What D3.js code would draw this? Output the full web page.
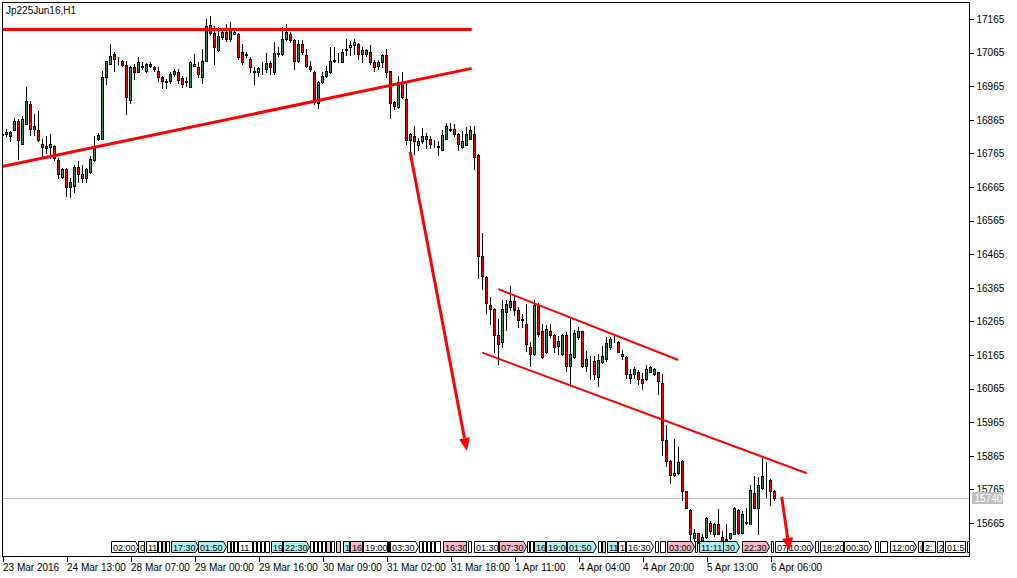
<!DOCTYPE html>
<html><head><meta charset="utf-8">
<script src="https://cdn.jsdelivr.net/npm/d3@7"></script>
<style>
body{margin:0;background:#fff;}
svg{display:block;font-family:"Liberation Sans",Arial,sans-serif;}
</style>
</head><body>
<svg id="c" width="1017" height="578"></svg>
<script>
// ---------- DATA (hourly bars, Jp225Jun16) ----------
const opens = [
16821,16823,16816,16836,16861,16794,16853,16911,16838,16836,
16794,16781,16784,16788,16746,16694,16719,16664,16668,16724,
16704,16691,16709,16746,16809,16809,16993,17031,17061,17041,
17039,17029,16924,17023,17008,17021,17009,17032,17021,17011,
16993,16981,16979,17001,17008,16988,16978,16964,17026,17023,
16993,17039,17148,17124,17073,17111,17126,17104,17121,17121,
17066,17058,17046,17011,17006,17015,17016,17033,17006,17061,
17061,17106,17121,17103,17041,17091,17059,17024,17008,16916,
16978,16996,17006,17041,17045,17036,17073,17083,17088,17091,
17061,17061,17066,17038,17026,17036,17059,17009,16918,16904,
16978,16926,16806,16816,16791,16801,16809,16809,16794,16786,
16776,16809,16836,16839,16823,16784,16791,16809,16824,16759,
16461,16396,16315,16303,16225,16203,16293,16308,16325,16300,
16271,16258,16190,16168,16315,16235,16173,16235,16225,16193,
16168,16225,16133,16160,16220,16235,16133,16146,16148,16100,
16143,16153,16190,16212,16205,16168,16160,16098,16108,16115,
16095,16093,16115,16108,16115,16081,15911,15851,15808,15814,
15851,15761,15703,15621,15634,15611,15623,15666,15633,15663,
15623,15614,15619,15631,15703,15636,15666,15663,15753,15709,
15769,15793,15793,15761];
const highs = [
16826,16839,16833,16871,16866,16876,16963,16921,16881,16891,
16809,16816,16823,16791,16751,16721,16721,16691,16731,16741,
16731,16721,16756,16816,16826,17011,17041,17091,17066,17051,
17044,17041,17026,17031,17051,17036,17033,17036,17026,17021,
16996,16986,17006,17016,17016,16996,16991,17041,17061,17036,
17076,17166,17173,17143,17141,17136,17151,17156,17133,17124,
17091,17066,17051,17021,17021,17036,17063,17039,17096,17081,
17141,17149,17126,17106,17103,17103,17076,17041,17011,16981,
17006,17026,17081,17081,17063,17076,17106,17099,17106,17093,
17081,17076,17088,17043,17043,17061,17076,17011,16921,16996,
17008,16981,16826,16846,16811,16841,16826,16816,16806,16803,
16836,16856,16856,16853,16826,16831,16843,16846,16846,16764,
16527,16401,16338,16305,16273,16328,16330,16370,16343,16308,
16288,16318,16203,16330,16320,16258,16253,16258,16228,16223,
16228,16233,16273,16238,16248,16237,16178,16163,16163,16168,
16193,16218,16218,16223,16208,16180,16163,16123,16128,16120,
16110,16135,16133,16125,16115,16108,15956,15853,15916,15891,
15853,15761,15706,15646,15636,15631,15683,15671,15666,15706,
15641,15661,15636,15713,15706,15701,15711,15779,15806,15801,
15861,15846,15795,15763];
const lows = [
16816,16816,16801,16836,16749,16794,16853,16821,16821,16801,
16751,16766,16751,16746,16691,16691,16639,16636,16651,16681,
16681,16681,16706,16741,16806,16809,16971,17031,17011,17031,
17026,16881,16916,16986,17006,17016,17006,17021,17011,16981,
16961,16961,16976,16996,16976,16963,16966,16964,17026,16991,
16976,17039,17116,17031,17071,17106,17101,17101,17119,17046,
17031,17051,17006,16971,16996,17001,17006,17001,17001,17056,
17059,17103,17096,17016,17036,17061,17021,17011,16911,16901,
16976,16993,17003,17036,17036,17036,17059,17059,17061,17046,
17036,17056,17031,17009,17016,17021,16991,16869,16896,16901,
16931,16793,16766,16763,16776,16796,16781,16781,16784,16761,
16776,16809,16831,16816,16776,16781,16789,16809,16718,16394,
16361,16291,16258,16173,16138,16190,16238,16300,16283,16248,
16248,16178,16133,16166,16223,16156,16170,16218,16173,16168,
16166,16118,16073,16156,16213,16128,16118,16093,16093,16073,
16140,16148,16183,16203,16173,16153,16096,16083,16098,16078,
16063,16090,16113,16106,16048,15866,15836,15783,15806,15811,
15733,15709,15611,15611,15606,15606,15621,15631,15626,15631,
15606,15606,15616,15631,15633,15636,15663,15661,15709,15633,
15766,15743,15719,15733];
const closes = [
16822,16829,16829,16861,16806,16866,16921,16839,16846,16806,
16784,16786,16794,16751,16704,16719,16666,16681,16724,16704,
16693,16719,16749,16781,16821,16993,17039,17056,17046,17039,
17029,16934,17021,17006,17038,17026,17031,17026,17016,16991,
16979,16978,17001,17011,16984,16971,16981,17038,17031,17001,
17041,17143,17123,17081,17113,17126,17104,17136,17126,17051,
17036,17061,17023,17008,17018,17016,17033,17021,17063,17063,
17106,17126,17103,17041,17091,17066,17024,17016,16919,16978,
16996,17011,17041,17044,17046,17068,17076,17089,17096,17061,
17073,17073,17036,17023,17038,17059,17006,16916,16906,16978,
16934,16806,16824,16801,16801,16816,16816,16794,16793,16785,
16821,16846,16839,16823,16794,16801,16823,16836,16754,16459,
16401,16321,16303,16225,16198,16303,16318,16325,16300,16270,
16269,16198,16168,16315,16228,16158,16243,16225,16190,16208,
16225,16133,16168,16230,16235,16133,16153,16146,16108,16150,
16163,16200,16213,16214,16175,16161,16108,16108,16123,16093,
16083,16123,16128,16123,16088,15911,15851,15808,15814,15846,
15761,15711,15631,15634,15611,15623,15681,15641,15663,15633,
15611,15616,15634,15711,15636,15693,15668,15763,15711,15778,
15806,15794,15761,15740];

const symbolTitle = "Jp225Jun16,H1";
const lastPrice = 15740;
const priceTicks = d3.range(15665, 17166, 100);
const timeTickBars = d3.range(0, 193, 16);
const timeTickLabels = ["23 Mar 2016","24 Mar 13:00","28 Mar 07:00","29 Mar 00:00","29 Mar 16:00",
  "30 Mar 09:00","31 Mar 02:00","31 Mar 18:00","1 Apr 11:00","4 Apr 04:00","4 Apr 20:00",
  "5 Apr 13:00","6 Apr 06:00"];

// drawn objects: [barIndex, price] pairs
const resistanceLine = [[-0.12, 17134], [117.3, 17134]];
const risingLine = [[-0.12, 16726], [117.3, 17018]];
const channelUpper = [[123.95, 16361], [168.95, 16150]];
const channelLower = [[119.95, 16172], [201.05, 15813]];
const arrowA = [[101.9, 16770], [116.1, 15879]];
const arrowB = [[194.8, 15743], [196.75, 15582]];

// session-time strip: [startBar, endBar, label, kind(w/c/p), chevron]
const strip = [
[27.1,33.6,"02:00","w",1],[33.9,35.4,"0","w",0],[35.9,38.6,"11","w",0],[38.9,39.6,"","w",0],
[39.9,40.6,"","p",0],[40.9,41.6,"","w",0],[42.1,48.6,"17:30","c",1],[48.9,55.6,"01:50","c",1],
[56.1,56.9,"","w",0],[57.1,57.6,"","w",0],[57.9,58.6,"","w",0],[58.9,62.4,"11","w",0],
[62.6,63.4,"","w",0],[63.6,64.4,"","w",0],[64.6,65.4,"","w",0],[65.6,66.6,"","w",0],
[67.1,69.9,"19","c",0],[70.1,76.4,"22:30","c",1],[76.9,77.6,"","w",0],[77.9,78.6,"","w",0],
[78.9,79.6,"","w",0],[79.9,80.6,"","w",0],[80.9,81.9,"","p",0],[82.1,82.9,"","w",0],
[83.4,84.4,"","p",0],[85.1,86.6,"1","c",0],[86.9,89.9,"16","p",0],[90.1,96.1,"19:00","w",0],
[96.3,96.7,"","w",0],[96.9,103.6,"03:30","w",1],[104.1,104.9,"","w",0],[105.1,105.9,"","w",0],
[106.1,106.9,"","w",0],[107.1,107.9,"","w",0],[108.1,109.4,"","w",0],[110.1,115.9,"16:30","p",0],
[116.3,117.1,"","w",0],[117.9,123.9,"01:30","w",0],[124.1,130.6,"07:30","p",1],[131.1,131.6,"","w",0],
[131.9,132.6,"","w",0],[132.9,135.6,"16","c",0],[135.9,140.9,"19:00","c",0],[141.1,148.1,"01:50","c",1],
[148.9,149.6,"","w",0],[149.9,150.6,"","p",0],[151.1,153.6,"11","c",0],[153.9,155.6,"1","w",0],
[155.9,162.4,"16:30","w",1],[163.1,163.9,"","w",0],[164.4,165.6,"","w",0],[166.1,172.6,"03:00","p",1],
[173.1,173.6,"","w",0],[174.1,180.1,"11:11","c",0],[180.1,183.9,"30","c",1],[184.9,191.4,"22:30","p",1],
[192.1,192.6,"","w",0],[193.1,196.1,"07","w",0],[196.1,202.4,"10:00","w",1],[203.1,203.9,"","w",0],
[204.4,210.1,"18:20","w",0],[210.4,216.9,"00:30","w",1],[218.1,218.9,"","w",0],[219.4,221.1,"","w",0],
[221.9,228.1,"12:00","w",1],[228.9,229.9,"0","w",0],[230.1,233.1,"2:","w",0],[233.6,235.1,"2","w",0],
[235.6,240.6,"01:5","w",0],[241.1,241.6,"","w",0]
];

// ---------- RENDER ----------
const svg = d3.select("#c");
const frame = {l:2.5, t:2.5, r:969.5, b:556.5};
const x = d3.scaleLinear().domain([0, 193]).range([2.5, 774.5]);
const y = d3.scaleLinear().domain([15665, 17165]).range([523, 19]);
const UP = "#2e8b57", DN = "#ff0000", LINE = "#ff0000";
const AXF = "10px";

svg.append("rect").attr("width",1017).attr("height",578).attr("fill","#fff");
svg.append("defs").append("clipPath").attr("id","plotclip")
  .append("rect").attr("x",frame.l).attr("y",frame.t)
  .attr("width",frame.r-frame.l).attr("height",frame.b-frame.t);

const plot = svg.append("g").attr("clip-path","url(#plotclip)");

// current price line
plot.append("line").attr("x1",frame.l).attr("x2",frame.r)
  .attr("y1",Math.round(y(lastPrice))+0.5).attr("y2",Math.round(y(lastPrice))+0.5)
  .attr("stroke","#c0c0c0").attr("stroke-width",1);

// candles
const bars = d3.range(opens.length).map(i => ({i, o:opens[i], h:highs[i], l:lows[i], c:closes[i]}));
const cg = plot.append("g").attr("shape-rendering","crispEdges");
cg.selectAll("line.w").data(bars).join("line")
  .attr("x1",d=>x(d.i)).attr("x2",d=>x(d.i))
  .attr("y1",d=>Math.round(y(d.h))).attr("y2",d=>Math.round(y(d.l))+1)
  .attr("stroke","#000").attr("stroke-width",1);
cg.selectAll("rect.b").data(bars).join("rect")
  .attr("x",d=>x(d.i)-1).attr("width",2)
  .attr("y",d=>Math.round(y(Math.max(d.o,d.c)))+0.5)
  .attr("height",d=>Math.max(0, Math.round(y(Math.min(d.o,d.c))) - Math.round(y(Math.max(d.o,d.c)))))
  .attr("fill",d=>d.c>=d.o?UP:DN).attr("stroke","#000").attr("stroke-width",1);

// trend lines
function seg(pts, w){
  plot.append("line")
    .attr("x1",x(pts[0][0])).attr("y1",y(pts[0][1]))
    .attr("x2",x(pts[1][0])).attr("y2",y(pts[1][1]))
    .attr("stroke",LINE).attr("stroke-width",w);
}
seg(resistanceLine,3);
seg(risingLine,3);
seg(channelUpper,2);
seg(channelLower,2);

// time strip
const sg = svg.append("g").attr("font-size","9px");
const sy0 = 541, sy1 = 553;
const fills = {w:"#ffffff", c:"#afeeee", p:"#f8b8c4"};
strip.forEach((s,k)=>{
  const x0 = Math.round(x(s[0]))+0.5, x1 = Math.round(x(s[1]))+0.5;
  const cid = "sc"+k;
  sg.append("clipPath").attr("id",cid).append("rect")
    .attr("x",x0+1).attr("y",sy0).attr("width",Math.max(0,x1-x0-1)).attr("height",sy1-sy0);
  let p;
  if (s[4]) {
    const ym = (sy0+sy1)/2;
    p = `M${x0},${sy0+0.5}H${x1-2}L${x1+1},${ym}L${x1-2},${sy1-0.5}H${x0}Z`;
  } else {
    p = `M${x0},${sy0+0.5}H${x1}V${sy1-0.5}H${x0}Z`;
  }
  sg.append("path").attr("d",p).attr("fill",fills[s[3]]).attr("stroke","#000").attr("stroke-width",1);
  if (s[2]) {
    sg.append("text").attr("clip-path",`url(#${cid})`).attr("x",x0+1.5).attr("y",sy1-2.5)
      .attr("fill","#000").text(s[2]);
  }
});

// arrows
function arrow(pts){
  const x0=x(pts[0][0]), y0=y(pts[0][1]), x1=x(pts[1][0]), y1=y(pts[1][1]);
  const dx=x1-x0, dy=y1-y0, L=Math.hypot(dx,dy), ux=dx/L, uy=dy/L;
  const len=13, hw=5.5;
  const bx=x1-ux*len, by=y1-uy*len;
  svg.append("line").attr("x1",x0).attr("y1",y0).attr("x2",bx).attr("y2",by)
    .attr("stroke",LINE).attr("stroke-width",3);
  svg.append("path")
    .attr("d",`M${x1},${y1}L${bx-uy*hw},${by+ux*hw}L${bx+uy*hw},${by-ux*hw}Z`)
    .attr("fill",LINE);
}
arrow(arrowA);
arrow(arrowB);

// frame
svg.append("rect").attr("x",frame.l).attr("y",frame.t)
  .attr("width",frame.r-frame.l).attr("height",frame.b-frame.t)
  .attr("fill","none").attr("stroke","#000").attr("shape-rendering","crispEdges");

// price axis
const ya = svg.append("g").attr("transform",`translate(${frame.r},0)`)
  .call(d3.axisRight(y).tickValues(priceTicks).tickSize(4).tickPadding(3).tickFormat(d3.format("d")));
ya.select(".domain").remove();
ya.selectAll("line").attr("shape-rendering","crispEdges");
ya.selectAll("text").attr("font-family","Liberation Sans, Arial, sans-serif").attr("font-size",AXF).attr("fill","#000");

// last price tag
const lpY = Math.round(y(lastPrice));
svg.append("rect").attr("x",972).attr("y",lpY-6).attr("width",31).attr("height",12).attr("fill","#c0c0c0");
svg.append("text").attr("x",974.5).attr("y",lpY+3.5).attr("font-size",AXF).attr("fill","#fff").text(lastPrice);

// time axis
const xa = svg.append("g").attr("transform",`translate(0,${frame.b})`)
  .call(d3.axisBottom(x).tickValues(timeTickBars).tickSize(5).tickPadding(2)
        .tickFormat((d,i)=>timeTickLabels[i]));
xa.select(".domain").remove();
xa.selectAll("line").attr("shape-rendering","crispEdges");
xa.selectAll("text").attr("text-anchor","start").attr("font-family","Liberation Sans, Arial, sans-serif")
  .attr("font-size",AXF).attr("fill","#000");

// title
svg.append("text").attr("x",6).attr("y",14).attr("font-size","10px").attr("fill","#000").text(symbolTitle);
</script>
</body></html>
